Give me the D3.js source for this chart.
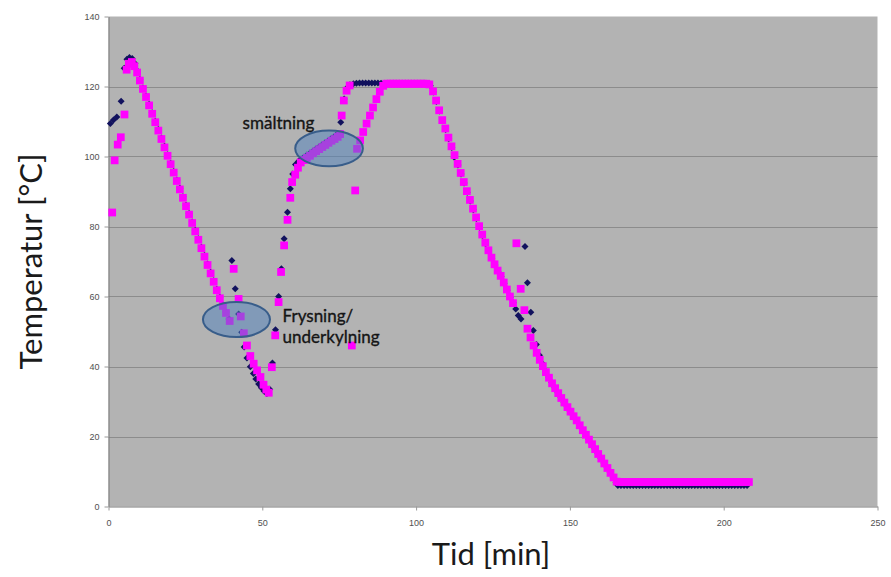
<!DOCTYPE html>
<html>
<head>
<meta charset="utf-8">
<script src="https://cdn.jsdelivr.net/npm/d3@7"></script>
<style>
  body { margin: 0; background: #ffffff; }
  svg { display: block; }
</style>
</head>
<body>
<svg id="chart" width="891" height="577"></svg>
<script>
// Axis ticks
const timeTicks = [0, 50, 100, 150, 200, 250];
const tempTicks = [0, 20, 40, 60, 80, 100, 120, 140];

// Probe 2 (magenta squares): [minutes, °C]
const pinkWarmup = [[1.2,84],[2.0,98.9],[3.0,103.4],[4.0,105.5],[5.2,112],[5.9,124.8],[6.6,126.5],[7.6,127],[8.4,125.8],[9.3,124]];
const pinkCooling = [[10.2,121.7],[11.2,119.3],[12.2,117],[13.2,114.6],[14.2,112.2],[15.2,109.8],[16.2,107.4],[17.2,105],[18.2,102.6],[19.2,100.2],[20.2,97.8],[21.2,95.4],[22.2,93],[23.2,90.6],[24.2,88.2],[25.2,85.8],[26.2,83.4],[27.2,81],[28.2,78.6],[29.2,76.2],[30.2,73.8],[31.2,71.4],[32.2,69],[33.2,66.6],[34.2,64.2],[35.2,61.8],[36.2,59.5],[37.2,57.3],[38.2,55.3],[39.4,53]];
const pinkFreezing = [[40.7,67.9],[42.3,59.3],[43.0,54.3],[44.0,49.5],[45.0,46],[46.1,43],[47.2,40.8],[48.3,38.9],[49.4,37],[50.4,34.8],[51.3,33.4],[52.1,32.5]];
const pinkHeating = [[53.1,39.8],[54.2,48.9],[55.3,58.4],[56.1,67],[57.1,74.6],[58.2,81.9],[59.1,88.2],[59.7,92.7],[60.7,94.8],[61.6,96.8],[62.5,98.3],[63.5,99],[64.5,99.6],[65.5,100.2],[66.5,100.9],[67.5,101.5],[68.5,102.1],[69.5,102.7],[70.5,103.3],[71.5,103.9],[72.5,104.5],[73.5,105],[74.5,105.6],[75.3,106.4],[75.8,111.7],[76.5,116],[77.4,118.8],[78.4,120.3]];
const pinkReheat = [[79.1,46],[80.2,90.3],[80.8,102.2],[81.8,104.6],[82.8,107],[83.9,109.4],[85.0,111.7],[86.0,114],[87.1,116.4],[88.2,118.5],[89.3,120.2]];
const pinkHold = [[90.3,120.8],[91.3,120.8],[92.3,120.8],[93.3,120.8],[94.3,120.8],[95.3,120.8],[96.3,120.8],[97.3,120.8],[98.3,120.8],[99.3,120.8],[100.3,120.8],[101.3,120.8],[102.3,120.8],[103.3,120.8],[104.3,120.6]];
const pinkChill = [[105.5,118.6],[106.5,116],[107.5,113.2],[108.5,110.4],[109.5,108],[110.5,105.4],[111.5,102.9],[112.5,100.4],[113.5,97.9],[114.5,95.3],[115.5,92.7],[116.5,90.1],[117.5,87.6],[118.5,85.1],[119.5,82.6],[120.5,80.1],[121.5,77.7],[122.5,75.4],[123.5,73.2],[124.5,71.1],[125.5,69.2],[126.5,67.4],[127.5,65.9],[128.5,64],[129.5,62],[130.5,60],[131.5,58.1],[132.6,75.2],[134.0,62.2],[135.2,56.1],[136.2,50.8],[137.2,48.3],[138.2,46],[139.2,43.9],[140.2,41.9],[141.2,40.1],[142.2,38.4],[143.2,36.8],[144.2,35.2],[145.2,33.8],[146.2,32.4],[147.2,31],[148.2,29.7],[149.2,28.4],[150.2,27.1],[151.2,25.8],[152.2,24.6],[153.2,23.2],[154.2,21.8],[155.2,20.5],[156.2,19.1],[157.2,17.8],[158.2,16.4],[159.2,15],[160.2,13.7],[161.2,12.3],[162.2,11],[163.2,9.6],[164.2,8.3],[165.2,7.1]];
const pinkStore = [[166.2,7],[167.2,7],[168.2,7],[169.2,7],[170.2,7],[171.2,7],[172.2,7],[173.2,7],[174.2,7],[175.2,7],[176.2,7],[177.2,7],[178.2,7],[179.2,7],[180.2,7],[181.2,7],[182.2,7],[183.2,7],[184.2,7],[185.2,7],[186.2,7],[187.2,7],[188.2,7],[189.2,7],[190.2,7],[191.2,7],[192.2,7],[193.2,7],[194.2,7],[195.2,7],[196.2,7],[197.2,7],[198.2,7],[199.2,7],[200.2,7],[201.2,7],[202.2,7],[203.2,7],[204.2,7],[205.2,7],[206.2,7],[207.2,7],[208.2,7]];

// Probe 1 (navy diamonds): [minutes, °C]
const navyWarmup = [[0.6,109.4],[1.6,110.4],[2.7,111.3],[4.1,115.8],[5.1,125.2],[6.0,127.8],[6.8,128.3],[7.7,128],[8.6,126.6],[9.4,124.4]];
const navyCooling = [[10.2,122],[11.2,119.6],[12.2,117.3],[13.2,114.9],[14.2,112.5],[15.2,110.1],[16.2,107.7],[17.2,105.3],[18.2,102.9],[19.2,100.5],[20.2,98.1],[21.2,95.7],[22.2,93.3],[23.2,90.9],[24.2,88.5],[25.2,86.1],[26.2,83.7],[27.2,81.3],[28.2,78.9],[29.2,76.5],[30.2,74.1],[31.2,71.7],[32.2,69.3],[33.2,66.9],[34.2,64.5],[35.2,62.1],[36.2,59.8],[37.2,57.6],[38.2,55.6],[39.2,53.6]];
const navyFreezing = [[40.1,70.3],[41.2,62.2],[42.3,55],[43.3,49.8],[44.1,45.6],[45.0,42.4],[46.1,39.9],[47.1,38],[47.9,36.4],[48.8,35],[49.7,33.9],[50.6,32.9],[51.5,32.3]];
const navyHeating = [[52.4,33.5],[53.3,41],[54.3,50.5],[55.3,60],[56.2,67.9],[57.1,76.5],[58.2,84.1],[59.1,90.8],[59.9,95],[60.8,97.7],[61.7,98.6],[62.6,99.3],[63.5,99.8],[64.5,100.4],[65.5,101],[66.5,101.6],[67.5,102.2],[68.5,102.8],[69.5,103.4],[70.5,104],[71.5,104.6],[72.5,105.2],[73.5,105.8],[74.5,106.6],[75.5,109.8],[76.6,116.4],[77.5,119.6],[78.5,120.5]];
const navyHold = [[79.6,120.8],[80.6,120.9],[81.6,121],[82.6,121],[83.6,121],[84.6,121],[85.6,121],[86.6,121],[87.6,121],[88.6,120.9],[89.6,120.9],[90.6,120.9],[91.6,120.9],[92.6,120.9],[93.6,120.9],[94.6,120.9],[95.6,120.9],[96.6,120.9],[97.6,120.9],[98.6,120.9],[99.6,120.9],[100.6,120.9],[101.6,120.9],[102.6,120.9],[103.6,120.8]];
const navyChill = [[104.6,120.2],[105.6,118.4],[106.6,115.7],[107.6,113],[108.6,110.2],[109.6,107.7],[110.6,105.1],[111.6,102.6],[112.4,99.8],[113.6,97.6],[114.6,95],[115.6,92.4],[116.6,89.8],[117.6,87.3],[118.6,84.8],[119.6,82.3],[120.6,79.8],[121.6,77.4],[122.6,75.1],[123.6,73],[124.6,70.9],[125.6,69],[126.6,67.2],[127.6,65.7],[128.6,63.8],[129.6,61.8],[130.6,59.8],[131.6,58.2],[132.4,56.4],[133.2,54.6],[134.1,53.6],[135.4,74.3],[136.2,63.9],[137.3,55.5],[138.1,50.3],[139.1,46.3],[140.1,43.2],[141.1,40.8],[142.1,38.7],[143.1,37],[144.1,35.4],[145.1,33.9],[146.1,32.5],[147.1,31.1],[148.1,29.8],[149.1,28.5],[150.1,27.2],[151.1,25.9],[152.1,24.7],[153.1,23.3],[154.1,21.9],[155.1,20.6],[156.1,19.2],[157.1,17.9],[158.1,16.5],[159.1,15.1],[160.1,13.8],[161.1,12.4],[162.1,11.1],[163.1,9.7],[164.1,8.3],[165.0,6.8]];
const navyStore = [[165.6,6],[166.6,6],[167.6,6],[168.6,6],[169.6,6],[170.6,6],[171.6,6],[172.6,6],[173.6,6],[174.6,6],[175.6,6],[176.6,6],[177.6,6],[178.6,6],[179.6,6],[180.6,6],[181.6,6],[182.6,6],[183.6,6],[184.6,6],[185.6,6],[186.6,6],[187.6,6],[188.6,6],[189.6,6],[190.6,6],[191.6,6],[192.6,6],[193.6,6],[194.6,6],[195.6,6],[196.6,6],[197.6,6],[198.6,6],[199.6,6],[200.6,6],[201.6,6],[202.6,6],[203.6,6],[204.6,6],[205.6,6],[206.6,6],[207.6,6]];

// Highlighted phases: centre in data units, half-axes in minutes / °C
const callouts = [
  { t: 71.7, temp: 102.3, rt: 11.0, rtemp: 5.1, lines: ["smältning"], tx: 43.6, ty: 108.0 },
  { t: 41.6, temp: 53.4, rt: 10.9, rtemp: 5.0, lines: ["Frysning/", "underkylning"], tx: 56.6, ty: 52.6 }
];

const navyPoints = [].concat(navyWarmup, navyCooling, navyFreezing, navyHeating, navyHold, navyChill, navyStore);
const pinkPoints = [].concat(pinkWarmup, pinkCooling, pinkFreezing, pinkHeating, pinkReheat, pinkHold, pinkChill, pinkStore);

const svg = d3.select("#chart");
const x = d3.scaleLinear().domain([0, 250]).range([108.5, 877.5]);
const y = d3.scaleLinear().domain([0, 140]).range([506.5, 16.5]);

// Plot area
svg.append("rect")
  .attr("x", x(0)).attr("y", y(140))
  .attr("width", x(250) - x(0)).attr("height", y(0) - y(140))
  .attr("fill", "#b3b3b3");

// Horizontal gridlines
svg.append("g").selectAll("line")
  .data(tempTicks.filter(d => d > 0 && d < 140))
  .join("line")
  .attr("x1", x(0)).attr("x2", x(250))
  .attr("y1", d => Math.round(y(d)) + 0.5).attr("y2", d => Math.round(y(d)) + 0.5)
  .attr("stroke", "#8c8c8c").attr("stroke-width", 1);

// Axes
const yAxis = svg.append("g")
  .attr("transform", `translate(${x(0)},0)`)
  .call(d3.axisLeft(y).tickValues(tempTicks).tickSize(4).tickPadding(5).tickSizeOuter(0));
const xAxis = svg.append("g")
  .attr("transform", `translate(0,${y(0)})`)
  .call(d3.axisBottom(x).tickValues(timeTicks).tickSize(4).tickPadding(9).tickSizeOuter(0));
[yAxis, xAxis].forEach(g => {
  g.select(".domain").attr("stroke", "#7a7a7a");
  g.selectAll(".tick line").attr("stroke", "#9a9a9a");
  g.selectAll(".tick text")
    .attr("fill", "#505050")
    .style("font-family", "'Liberation Sans', Arial, sans-serif")
    .style("font-size", "9px");
});

// Markers
const diamond = {
  draw(ctx, size) {
    const r = Math.sqrt(size) / 2;
    ctx.moveTo(0, -r); ctx.lineTo(r, 0); ctx.lineTo(0, r); ctx.lineTo(-r, 0); ctx.closePath();
  }
};
svg.append("g").selectAll("path")
  .data(navyPoints)
  .join("path")
  .attr("transform", d => `translate(${x(d[0])},${y(d[1])})`)
  .attr("d", d3.symbol().type(diamond).size(49))
  .attr("fill", "#12125e");

svg.append("g").selectAll("path")
  .data(pinkPoints)
  .join("path")
  .attr("transform", d => `translate(${x(d[0])},${y(d[1])})`)
  .attr("d", d3.symbol().type(d3.symbolSquare).size(60))
  .attr("fill", "#ff00ff");

// Phase callouts
const cg = svg.append("g");
callouts.forEach(c => {
  cg.append("ellipse")
    .attr("cx", x(c.t)).attr("cy", y(c.temp))
    .attr("rx", x(c.t + c.rt) - x(c.t)).attr("ry", y(c.temp - c.rtemp) - y(c.temp))
    .attr("fill", "#4f81bd").attr("fill-opacity", 0.5)
    .attr("stroke", "#385d8a").attr("stroke-width", 2);
  const txt = cg.append("text")
    .attr("x", x(c.tx)).attr("y", y(c.ty))
    .attr("fill", "#151515")
    .attr("stroke", "#151515").attr("stroke-width", 0.35)
    .style("font-family", "Lato, 'Open Sans', sans-serif")
    .style("font-size", "17px");
  c.lines.forEach((line, i) => {
    txt.append("tspan").attr("x", x(c.tx)).attr("dy", i === 0 ? 0 : 21).text(line);
  });
});

// Axis titles
svg.append("text")
  .attr("x", (x(0) + x(250)) / 2 - 2).attr("y", 565)
  .attr("text-anchor", "middle")
  .attr("fill", "#1a1a1a")
  .style("font-family", "Lato, 'Open Sans', sans-serif")
  .style("font-size", "31px")
  .text("Tid [min]");
svg.append("text")
  .attr("transform", `translate(42,${(y(0) + y(140)) / 2}) rotate(-90)`)
  .attr("text-anchor", "middle")
  .attr("fill", "#1a1a1a")
  .style("font-family", "Lato, 'Open Sans', sans-serif")
  .style("font-size", "31px")
  .text("Temperatur [°C]");
</script>
</body>
</html>
